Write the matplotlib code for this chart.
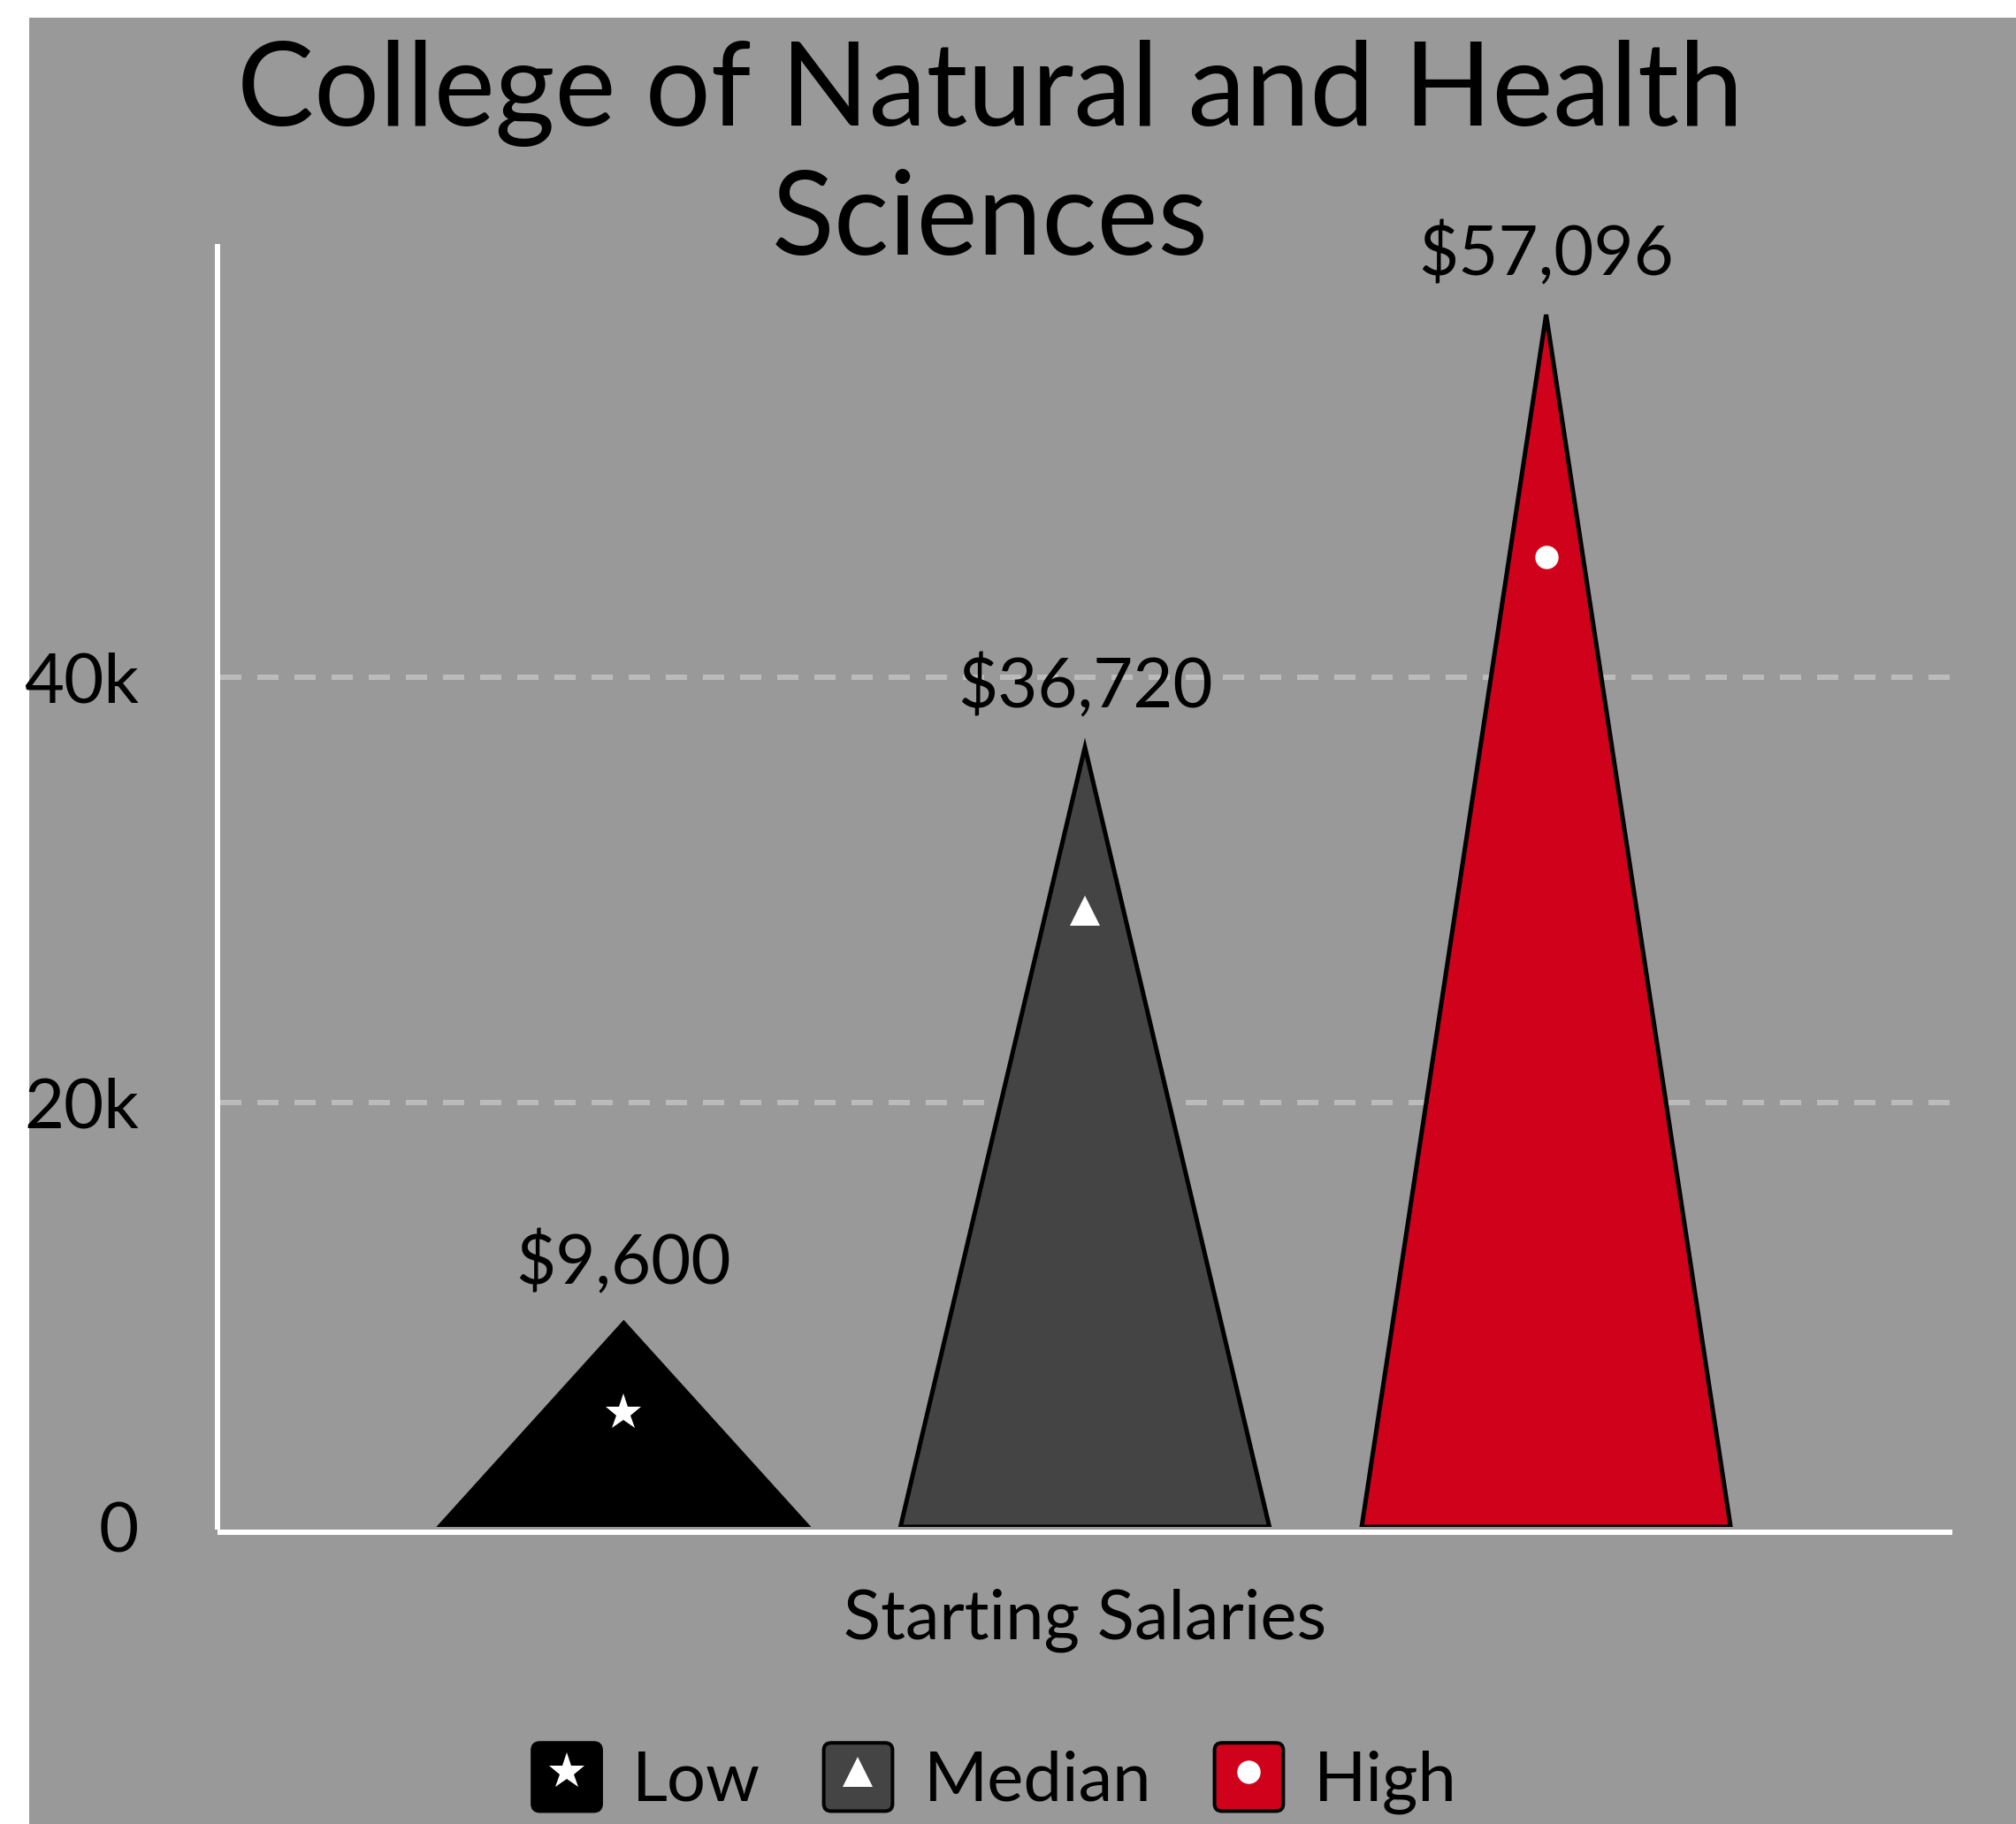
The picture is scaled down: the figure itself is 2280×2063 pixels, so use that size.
import numpy as np
import matplotlib
matplotlib.use("Agg")
import matplotlib.pyplot as plt
from matplotlib.patches import Patch, FancyBboxPatch, Rectangle
from matplotlib.lines import Line2D
from matplotlib.legend_handler import HandlerPatch, HandlerTuple

plt.rcParams['font.family'] = ['Lato', 'DejaVu Sans']
plt.rcParams['lines.scale_dashes'] = False

# data
categories = ['Low', 'Median', 'High']
salaries = [9600, 36720, 57096]
y_ticks = [0, 20000, 40000]
y_tick_labels = ['0', '20k', '40k']
title_lines = ['College of Natural and Health', 'Sciences']
x_label = 'Starting Salaries'

# styles
colors = ['#000000', '#444444', '#d0021b']
markers = ['*', '^', 'o']
marker_sizes = [31, 24, 19]
marker_frac = [0.56, 0.79, 0.80]   # height of the white symbol inside each peak
half_width = 0.4
px = 0.72  # points per pixel at dpi 100
W, H = 2280, 2063

fig = plt.figure(figsize=(W / 100, H / 100), dpi=100)
fig.add_artist(Rectangle((33 / W, 0), 1, 1 - 20 / H, transform=fig.transFigure,
                         facecolor='#999999', edgecolor='none', zorder=-1))

ax = fig.add_axes([249 / W, (H - 1727) / H, (2205 - 249) / W, (1727 - 279) / H])
ax.set_facecolor('none')

# peaks
for i, (v, c) in enumerate(zip(salaries, colors)):
    ax.fill([i - half_width, i, i + half_width], [0, v, 0], facecolor=c,
            edgecolor='black', linewidth=5 * px, zorder=2)
    ax.plot(i, v * marker_frac[i], marker=markers[i], color='white',
            markersize=marker_sizes[i], markeredgewidth=0, linestyle='none', zorder=3)
    ax.annotate(f'${v:,.0f}', (i, v), xytext=(0, 32), textcoords='offset points',
                ha='center', va='baseline', fontsize=56, color='black', zorder=4)

ax.set_xlim(-0.875, 2.875)
ax.set_ylim(0, 60300)
ax.set_xticks([])
ax.set_yticks(y_ticks, y_tick_labels)
ax.tick_params(axis='y', length=0, pad=64, labelsize=56, labelcolor='black')

# dashed grid lines (none on the zero line)
ax.hlines([t for t in y_ticks if t > 0], *ax.get_xlim(), color='#bbbbbb',
          linewidth=6 * px, linestyle=(0, (24 * px, 18 * px)), zorder=0.5)

for s in ['top', 'right']:
    ax.spines[s].set_visible(False)
ax.spines['left'].set_color('white')
ax.spines['left'].set_linewidth(6 * px)
ax.spines['left'].set_position(('outward', 3 * px))
ax.spines['bottom'].set_color('white')
ax.spines['bottom'].set_linewidth(6 * px)
ax.spines['bottom'].set_position(('outward', 6 * px))

ax.set_xlabel(x_label, fontsize=56, labelpad=46, color='black')

# title, one text per line
for line, base in zip(title_lines, [142, 288]):
    fig.text(1120 / W, 1 - base / H, line, ha='center', va='baseline',
             fontsize=94, color='black')


# legend: rounded colour boxes with the white symbol on top
def rounded_box(legend, orig_handle, xdescent, ydescent, width, height, fontsize):
    return FancyBboxPatch((-xdescent, -ydescent), width, height,
                          boxstyle='round,pad=0,rounding_size=6')


handles = []
for c, m, ms in zip(colors, markers, marker_sizes):
    box = Patch(facecolor=c, edgecolor='black', linewidth=4 * px)
    sym = Line2D([], [], marker=m, color='white', markersize=ms,
                 markeredgewidth=0, linestyle='none')
    handles.append((box, sym))

fig.legend(handles, categories, loc='center', bbox_to_anchor=(0.4935, 0.025),
           ncol=3, frameon=False, fontsize=56, handlelength=1.0, handleheight=1.15,
           handletextpad=0.45, columnspacing=0.92,
           handler_map={Patch: HandlerPatch(patch_func=rounded_box),
                        tuple: HandlerTuple(ndivide=1)})

fig.savefig('out.png', dpi=100)
